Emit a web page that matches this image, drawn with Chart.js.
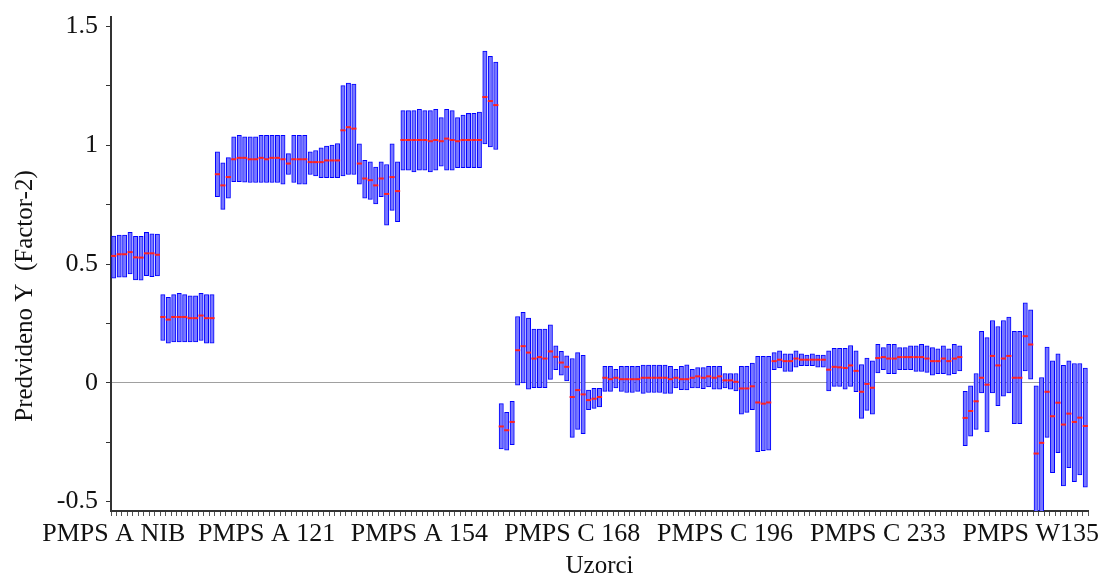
<!DOCTYPE html>
<html>
<head>
<meta charset="utf-8">
<title>Predvideno Y (Factor-2)</title>
<script src="https://cdn.jsdelivr.net/npm/chart.js@4.4.1/dist/chart.umd.min.js"></script>
<style>
  html, body { margin: 0; padding: 0; background: #fff; }
  #chart { display: block; }
</style>
</head>
<body>
<canvas id="chart" width="1102" height="579"></canvas>
<script>
/* ── Data: lower / upper deviation and predicted value per sample ── */
const GROUPS = ['PMPS A NIB', 'PMPS A 121', 'PMPS A 154', 'PMPS C 168', 'PMPS C 196', 'PMPS C 233', 'PMPS W135'];
const LABEL_STEP = 28;

const LOW = [
  0.440, 0.445, 0.445, 0.458, 0.433, 0.432, 0.451, 0.447, 0.450, 0.178,
  0.167, 0.172, 0.172, 0.172, 0.172, 0.172, 0.178, 0.167, 0.167, 0.783,
  0.730, 0.777, 0.847, 0.847, 0.845, 0.843, 0.843, 0.843, 0.843, 0.843,
  0.843, 0.836, 0.877, 0.843, 0.836, 0.836, 0.877, 0.871, 0.864, 0.864,
  0.864, 0.864, 0.871, 0.877, 0.877, 0.836, 0.777, 0.772, 0.753, 0.784,
  0.663, 0.726, 0.678, 0.895, 0.895, 0.888, 0.895, 0.895, 0.888, 0.895,
  0.912, 0.895, 0.895, 0.906, 0.906, 0.906, 0.906, 0.906, 1.006, 0.993,
  0.982, -0.279, -0.284, -0.261, -0.010, -0.001, -0.027, -0.021, -0.021, -0.021,
  0.014, 0.055, 0.032, 0.008, -0.230, -0.196, -0.214, -0.113, -0.108, -0.102,
  -0.036, -0.036, -0.022, -0.036, -0.041, -0.041, -0.036, -0.045, -0.041, -0.041,
  -0.041, -0.045, -0.045, -0.022, -0.029, -0.030, -0.022, -0.022, -0.025, -0.018,
  -0.027, -0.027, -0.022, -0.027, -0.034, -0.132, -0.125, -0.113, -0.290, -0.286,
  -0.284, 0.055, 0.062, 0.048, 0.048, 0.066, 0.072, 0.072, 0.072, 0.066,
  0.066, -0.034, -0.015, -0.015, -0.027, -0.015, -0.038, -0.150, -0.116, -0.132,
  0.041, 0.055, 0.038, 0.038, 0.055, 0.055, 0.055, 0.048, 0.048, 0.044,
  0.032, 0.038, 0.038, 0.032, 0.038, 0.050, -0.265, -0.225, -0.196, -0.043,
  -0.207, -0.043, -0.097, -0.056, -0.043, -0.172, -0.172, 0.050, 0.015, -0.600,
  -0.600, -0.230, -0.379, -0.294, -0.434, -0.358, -0.416, -0.388, -0.440,
];

const HIGH = [
  0.618, 0.622, 0.622, 0.633, 0.616, 0.616, 0.633, 0.627, 0.626, 0.371,
  0.360, 0.371, 0.377, 0.371, 0.366, 0.366, 0.377, 0.371, 0.371, 0.972,
  0.926, 0.948, 1.035, 1.042, 1.035, 1.035, 1.035, 1.042, 1.042, 1.042,
  1.042, 1.042, 0.965, 1.042, 1.042, 1.042, 0.972, 0.978, 0.989, 0.996,
  1.001, 1.007, 1.251, 1.262, 1.258, 1.006, 0.937, 0.930, 0.908, 0.930,
  0.919, 1.006, 0.930, 1.146, 1.146, 1.146, 1.151, 1.146, 1.146, 1.151,
  1.116, 1.151, 1.146, 1.116, 1.127, 1.134, 1.134, 1.140, 1.396, 1.374,
  1.350, -0.088, -0.125, -0.078, 0.279, 0.296, 0.272, 0.226, 0.226, 0.226,
  0.244, 0.155, 0.132, 0.113, 0.102, 0.127, 0.115, -0.031, -0.024, -0.024,
  0.069, 0.069, 0.057, 0.069, 0.069, 0.069, 0.069, 0.074, 0.074, 0.074,
  0.074, 0.074, 0.069, 0.057, 0.069, 0.075, 0.056, 0.064, 0.064, 0.069,
  0.069, 0.069, 0.039, 0.039, 0.039, 0.069, 0.069, 0.083, 0.111, 0.111,
  0.111, 0.127, 0.134, 0.122, 0.122, 0.134, 0.122, 0.116, 0.122, 0.116,
  0.116, 0.134, 0.145, 0.145, 0.145, 0.157, 0.134, 0.076, 0.104, 0.092,
  0.162, 0.148, 0.162, 0.162, 0.148, 0.148, 0.155, 0.155, 0.162, 0.155,
  0.148, 0.143, 0.155, 0.143, 0.162, 0.155, -0.036, -0.013, 0.039, 0.216,
  0.190, 0.262, 0.237, 0.262, 0.277, 0.216, 0.216, 0.337, 0.307, -0.013,
  0.022, 0.150, 0.092, 0.122, 0.073, 0.092, 0.081, 0.081, 0.062,
];

const PRED = [
  0.534, 0.541, 0.541, 0.550, 0.528, 0.527, 0.545, 0.545, 0.539, 0.277,
  0.266, 0.277, 0.277, 0.277, 0.272, 0.272, 0.283, 0.272, 0.272, 0.878,
  0.831, 0.866, 0.941, 0.947, 0.947, 0.941, 0.941, 0.947, 0.941, 0.947,
  0.947, 0.941, 0.923, 0.941, 0.941, 0.941, 0.929, 0.929, 0.929, 0.936,
  0.936, 0.936, 1.063, 1.076, 1.070, 0.923, 0.860, 0.853, 0.831, 0.860,
  0.795, 0.866, 0.807, 1.022, 1.022, 1.022, 1.022, 1.022, 1.017, 1.022,
  1.017, 1.028, 1.022, 1.017, 1.022, 1.022, 1.022, 1.022, 1.203, 1.186,
  1.169, -0.184, -0.200, -0.165, 0.137, 0.154, 0.127, 0.102, 0.108, 0.102,
  0.132, 0.109, 0.085, 0.067, -0.060, -0.031, -0.049, -0.073, -0.067, -0.060,
  0.021, 0.015, 0.021, 0.015, 0.015, 0.015, 0.015, 0.021, 0.021, 0.021,
  0.021, 0.021, 0.015, 0.021, 0.015, 0.015, 0.021, 0.027, 0.021, 0.027,
  0.021, 0.027, 0.010, 0.010, 0.004, -0.024, -0.024, -0.015, -0.083, -0.088,
  -0.083, 0.091, 0.097, 0.091, 0.091, 0.102, 0.097, 0.097, 0.097, 0.097,
  0.097, 0.055, 0.067, 0.065, 0.062, 0.073, 0.050, -0.038, -0.005, -0.021,
  0.104, 0.108, 0.102, 0.102, 0.108, 0.108, 0.108, 0.108, 0.108, 0.102,
  0.091, 0.091, 0.102, 0.091, 0.102, 0.108, -0.148, -0.119, -0.078, 0.021,
  -0.008, 0.113, 0.073, 0.102, 0.113, 0.021, 0.021, 0.196, 0.161, -0.298,
  -0.253, -0.038, -0.141, -0.084, -0.176, -0.130, -0.165, -0.147, -0.182,
];

const Y_TITLE = 'Predvideno Y  (Factor-2)';
const X_TITLE = 'Uzorci';

/* ── Build category labels: a group name every LABEL_STEP samples ── */
const LABELS = LOW.map((_, i) => (i % LABEL_STEP === 0 ? GROUPS[i / LABEL_STEP] : ''));
const RANGES = LOW.map((lo, i) => [lo, HIGH[i]]);

const SERIF = '"Liberation Serif", "Times New Roman", serif';

/* ── Rotated y title, placed like the original ── */
const yTitlePlugin = {
  id: 'yTitle',
  afterDraw(chart) {
    const { ctx } = chart;
    ctx.save();
    ctx.translate(25, 296);
    ctx.rotate(-Math.PI / 2);
    ctx.font = '25px ' + SERIF;
    ctx.fillStyle = '#111';
    ctx.textAlign = 'center';
    ctx.textBaseline = 'middle';
    ctx.fillText(Y_TITLE, 0, 0);
    ctx.restore();
  },
};

new Chart(document.getElementById('chart'), {
  type: 'bar',
  plugins: [yTitlePlugin],
  data: {
    labels: LABELS,
    datasets: [
      {
        type: 'line',
        label: 'Predicted',
        data: PRED,
        showLine: false,
        pointStyle: 'line',
        pointRadius: 2.6,
        pointBorderWidth: 2,
        pointBorderColor: '#ff2020',
        pointBackgroundColor: '#ff2020',
        order: 0,
      },
      {
        label: 'Deviation',
        data: RANGES,
        backgroundColor: 'rgb(120,120,255)',
        borderColor: '#0000ff',
        borderWidth: 1,
        borderSkipped: false,
        barThickness: 4.3,
        order: 1,
      },
    ],
  },
  options: {
    responsive: false,
    animation: false,
    devicePixelRatio: 1,
    layout: { padding: { top: 17, right: 14, bottom: 0, left: 0 } },
    plugins: {
      legend:  { display: false },
      tooltip: { enabled: false },
    },
    scales: {
      x: {
        afterFit(s) { s.height = 68; s.paddingLeft = 0; s.paddingRight = 0; },
        grid: {
          drawOnChartArea: false,
          drawTicks: true,
          tickLength: 5,
          tickColor: '#555',
        },
        border: { display: true, color: '#333', width: 2 },
        ticks: {
          autoSkip: false,
          maxRotation: 0,
          minRotation: 0,
          padding: 3,
          color: '#111',
          font: { family: SERIF, size: 26 },
        },
        title: {
          display: true,
          text: X_TITLE,
          color: '#111',
          padding: { top: 0, bottom: 0 },
          font: { family: SERIF, size: 25, lineHeight: 1 },
        },
      },
      y: {
        min: -0.54,
        max: 1.54,
        afterFit(s) { s.width = 111; s.paddingTop = 0; s.paddingBottom = 0; },
        grid: {
          drawOnChartArea: true,
          tickLength: 5,
          tickColor: '#333',
          color: ctx => (ctx.tick && ctx.tick.value === 0 ? '#a0a0a0' : 'rgba(0,0,0,0)'),
        },
        border: { display: true, color: '#333', width: 2 },
        ticks: {
          stepSize: 0.25,
          includeBounds: false,
          padding: 8,
          color: '#111',
          font: { family: SERIF, size: 26 },
          callback: v => {
            const r = Math.round(v * 100) / 100;
            if (Math.abs(r * 2 - Math.round(r * 2)) > 1e-6) return '';
            return String(r);
          },
        },
      },
    },
  },
});
</script>
</body>
</html>
